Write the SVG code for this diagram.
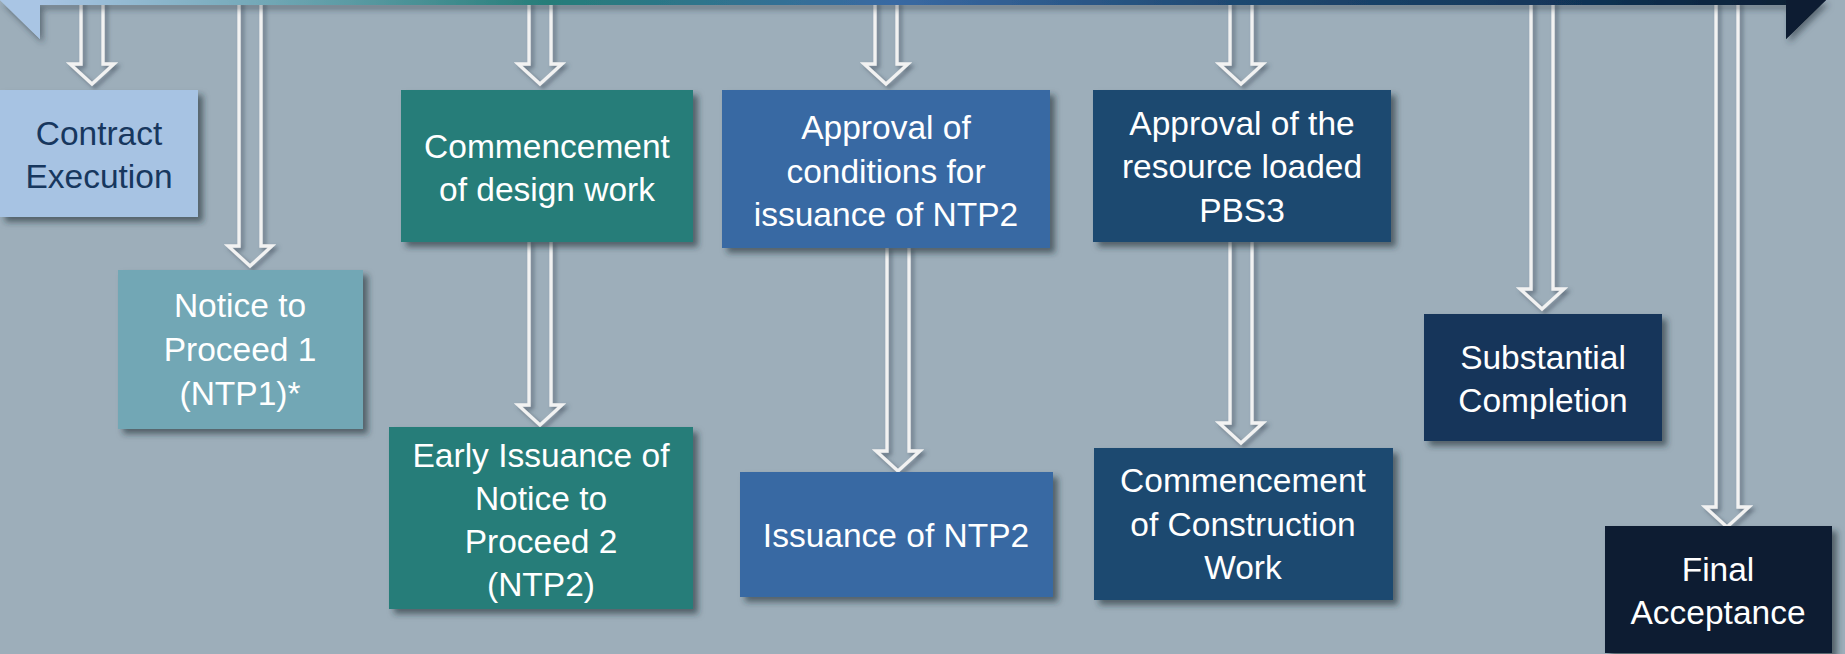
<svg xmlns="http://www.w3.org/2000/svg" width="1845" height="654" viewBox="0 0 1845 654">
<defs>
<linearGradient id="barGrad" x1="0" y1="0" x2="1826" y2="0" gradientUnits="userSpaceOnUse">
<stop offset="0.02" stop-color="#a9c5e4"/>
<stop offset="0.14" stop-color="#74a9b8"/>
<stop offset="0.30" stop-color="#267d79"/>
<stop offset="0.49" stop-color="#3969a3"/>
<stop offset="0.68" stop-color="#1e4870"/>
<stop offset="0.85" stop-color="#12365a"/>
<stop offset="1" stop-color="#0a1c30"/>
</linearGradient>
<filter id="boxShadow" x="-10%" y="-10%" width="125%" height="130%">
<feDropShadow dx="5" dy="5" stdDeviation="3" flood-color="#1e2a36" flood-opacity="0.6"/>
</filter>
<filter id="arrowShadow" x="-30%" y="-5%" width="170%" height="115%">
<feDropShadow dx="3" dy="3" stdDeviation="2" flood-color="#3a4a58" flood-opacity="0.6"/>
</filter>
<filter id="barShadow" x="-5%" y="-50%" width="110%" height="300%">
<feDropShadow dx="3" dy="4" stdDeviation="3" flood-color="#2a3440" flood-opacity="0.55"/>
</filter>
</defs>
<style>
.arrow{fill:none;stroke:#f2f2f2;stroke-width:3.3;stroke-linejoin:miter;filter:url(#arrowShadow)}
.box{filter:url(#boxShadow)}
.lbl{font-family:"Liberation Sans",Arial,sans-serif;font-size:33.5px;text-anchor:middle;fill:#ffffff}
.lbl.dark{fill:#17375e}
</style>
<rect x="0" y="0" width="1845" height="654" fill="#9daeba"/>

<g id="connectors">
<path class="arrow" d="M81,0 V64 H70 L92,84 L114,64 H103 V0"/>
<path class="arrow" d="M239,0 V246 H228 L250,266 L272,246 H261 V0"/>
<path class="arrow" d="M529,0 V64 H518 L540,84 L562,64 H551 V0"/>
<path class="arrow" d="M529,240 V405 H518 L540,425 L562,405 H551 V240"/>
<path class="arrow" d="M875,0 V64 H864 L886,84 L908,64 H897 V0"/>
<path class="arrow" d="M887,246 V451 H876 L898,471 L920,451 H909 V246"/>
<path class="arrow" d="M1230,0 V64 H1219 L1241,84 L1263,64 H1252 V0"/>
<path class="arrow" d="M1230,240 V423 H1219 L1241,443 L1263,423 H1252 V240"/>
<path class="arrow" d="M1531,0 V289 H1520 L1542,309 L1564,289 H1553 V0"/>
<path class="arrow" d="M1716,0 V507 H1705 L1727,527 L1749,507 H1738 V0"/>
</g>

<g id="banner" filter="url(#barShadow)">
<polygon points="0,0 1826,0 1786,39 1786,5 40,5 40,39" fill="url(#barGrad)"/>
<polygon points="0,0 40,0 40,39" fill="#a9c5e4"/>
<polygon points="1786,0 1826,0 1786,39" fill="#0a1c30"/>
</g>

<g id="contract-execution">
<rect class="box" x="0" y="90" width="198" height="127" fill="#a7c3e3"/>
<text class="lbl dark" x="99" y="145">Contract</text>
<text class="lbl dark" x="99" y="188">Execution</text>
</g>

<g id="ntp1">
<rect class="box" x="118" y="270" width="245" height="159" fill="#72a7b5"/>
<text class="lbl" x="240" y="317">Notice to</text>
<text class="lbl" x="240" y="361">Proceed 1</text>
<text class="lbl" x="240" y="405">(NTP1)*</text>
</g>

<g id="design-work">
<rect class="box" x="401" y="90" width="292" height="152" fill="#267d79"/>
<text class="lbl" x="547" y="158">Commencement</text>
<text class="lbl" x="547" y="201">of design work</text>
</g>

<g id="early-ntp2">
<rect class="box" x="389" y="427" width="304" height="182" fill="#267d79"/>
<text class="lbl" x="541" y="467">Early Issuance of</text>
<text class="lbl" x="541" y="510">Notice to</text>
<text class="lbl" x="541" y="553">Proceed 2</text>
<text class="lbl" x="541" y="596">(NTP2)</text>
</g>

<g id="approval-conditions">
<rect class="box" x="722" y="90" width="328" height="158" fill="#3969a3"/>
<text class="lbl" x="886" y="139">Approval of</text>
<text class="lbl" x="886" y="183">conditions for</text>
<text class="lbl" x="886" y="226">issuance of NTP2</text>
</g>

<g id="issuance-ntp2">
<rect class="box" x="740" y="472" width="313" height="125" fill="#3969a3"/>
<text class="lbl" x="896" y="547">Issuance of NTP2</text>
</g>

<g id="approval-pbs3">
<rect class="box" x="1093" y="90" width="298" height="152" fill="#1e4870"/>
<text class="lbl" x="1242" y="135">Approval of the</text>
<text class="lbl" x="1242" y="178">resource loaded</text>
<text class="lbl" x="1242" y="222">PBS3</text>
</g>

<g id="construction-work">
<rect class="box" x="1094" y="448" width="299" height="152" fill="#1e4870"/>
<text class="lbl" x="1243" y="492">Commencement</text>
<text class="lbl" x="1243" y="536">of Construction</text>
<text class="lbl" x="1243" y="579">Work</text>
</g>

<g id="substantial-completion">
<rect class="box" x="1424" y="314" width="238" height="127" fill="#12365a"/>
<text class="lbl" x="1543" y="369">Substantial</text>
<text class="lbl" x="1543" y="412">Completion</text>
</g>

<g id="final-acceptance">
<rect class="box" x="1605" y="526" width="227" height="127" fill="#0a1c30"/>
<text class="lbl" x="1718" y="581">Final</text>
<text class="lbl" x="1718" y="624">Acceptance</text>
</g>
</svg>
